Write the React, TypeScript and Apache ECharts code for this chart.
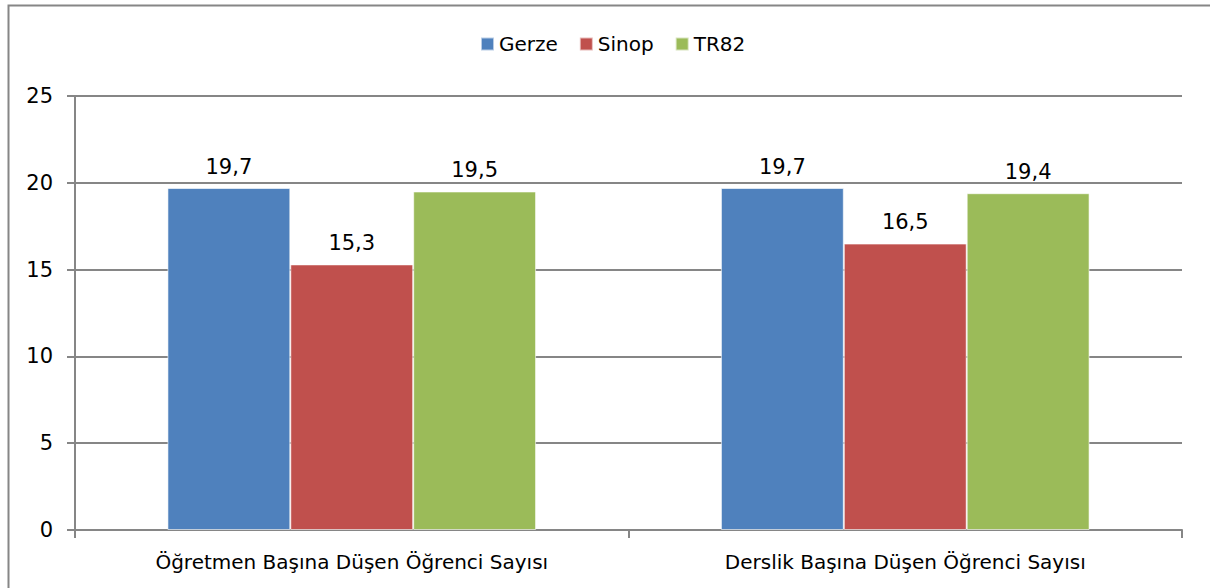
import React, { useEffect, useRef } from "react";
import * as echarts from "echarts";

const categories = ["Öğretmen Başına Düşen Öğrenci Sayısı", "Derslik Başına Düşen Öğrenci Sayısı"];
const seriesNames = ["Gerze", "Sinop", "TR82"];
const gerze = [19.7, 19.7];
const sinop = [15.3, 16.5];
const tr82 = [19.5, 19.4];
const colors = ["#4F81BD", "#C0504D", "#9BBB59"];

const FONT = "DejaVu Sans";

export default function App() {
  const ref = useRef<HTMLDivElement>(null);
  useEffect(() => {
    const chart = echarts.init(ref.current!, null, { renderer: "svg" });
    const values = [gerze, sinop, tr82];
    chart.setOption({
      animation: false,
      textStyle: { fontFamily: FONT, color: "#000" },
      legend: {
        top: 34,
        left: 480,
        padding: 0,
        itemWidth: 13,
        itemHeight: 13,
        itemGap: 21,
        icon: "rect",
        textStyle: { fontFamily: FONT, fontSize: 20, color: "#000" },
        data: seriesNames,
      },
      grid: { left: 75, right: 28, top: 96, bottom: 58 },
      xAxis: {
        type: "category",
        data: categories,
        axisLine: { lineStyle: { color: "#868686", width: 2 } },
        axisTick: { show: true, length: 8, lineStyle: { color: "#868686", width: 2 } },
        axisLabel: { fontFamily: FONT, fontSize: 20, color: "#000", margin: 22 },
      },
      yAxis: {
        type: "value",
        min: 0,
        max: 25,
        interval: 5,
        axisLine: { show: true, lineStyle: { color: "#868686", width: 2 } },
        axisTick: { show: true, length: 8, lineStyle: { color: "#868686", width: 2 } },
        splitLine: { lineStyle: { color: "#868686", width: 2 } },
        axisLabel: { fontFamily: FONT, fontSize: 21, color: "#000", margin: 22 },
      },
      series: seriesNames.map((name, i) => ({
        name,
        type: "bar",
        data: values[i],
        barGap: "0%",
        barCategoryGap: "33.4%",
        itemStyle: { color: colors[i], borderColor: "rgba(255,255,255,0.6)", borderWidth: 1 },
        label: {
          show: true,
          position: "top",
          distance: 11,
          fontFamily: FONT,
          fontSize: 21,
          color: "#000",
          formatter: (p: any) => String(p.value).replace(".", ","),
        },
      })),
      graphic: [
        {
          type: "rect",
          shape: { x: 8.5, y: 5.5, width: 1300, height: 700 },
          style: { fill: "none", stroke: "#868686", lineWidth: 2 },
          silent: true,
        },
      ],
    });
    return () => chart.dispose();
  }, []);
  return (
    <div
      ref={ref}
      style={{ position: "absolute", left: 0, top: 0, width: 1210, height: 588 }}
    />
  );
}
